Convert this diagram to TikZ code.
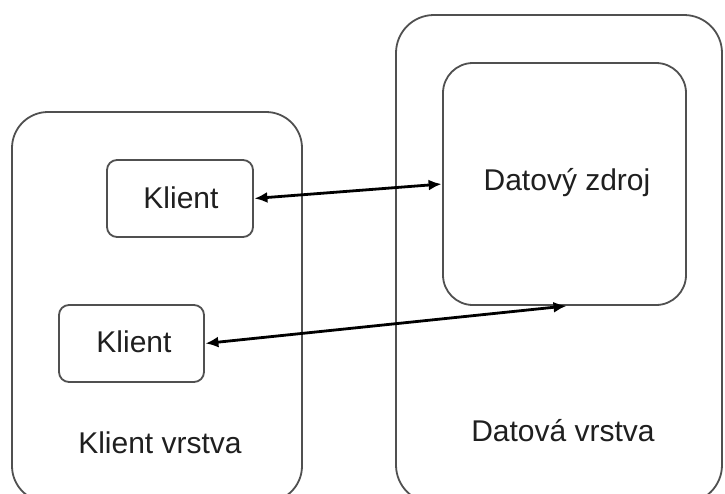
\documentclass[tikz,border=0pt]{standalone}
\usepackage{fontspec}
\setmainfont{Liberation Sans}
\usetikzlibrary{arrows.meta}
\definecolor{edgegray}{HTML}{505050}
\tikzset{
  box/.style={draw=edgegray, line width=1.8pt, inner sep=0pt},
  lbl/.style={font=\fontsize{30}{36}\selectfont, text=black!88, inner sep=0pt},
  link/.style={line width=2.8pt, black, {Latex[length=13pt,width=11pt]}-{Latex[length=13pt,width=11pt]}, shorten <=0.5pt, shorten >=0.5pt}
}
\begin{document}
\begin{tikzpicture}[x=1pt, y=-1pt]
\useasboundingbox (0,0) rectangle (725,493);
\clip (0,0) rectangle (725,493);
\fill[white] (0,0) rectangle (725,493);
% layers
\node[box, rounded corners=36pt, minimum width=290pt, minimum height=390pt] (clientlayer) at (157,307) {};
\node[box, rounded corners=38pt, minimum width=326pt, minimum height=488pt] (datalayer) at (559,259) {};
% inner boxes
\node[box, rounded corners=30pt, minimum width=243pt, minimum height=242pt] (zdroj) at (564.5,184) {};
\node[box, rounded corners=10pt, minimum width=146pt, minimum height=77pt] (k1) at (180,198.5) {};
\node[box, rounded corners=10pt, minimum width=145pt, minimum height=77pt] (k2) at (131.5,343.5) {};
% texts
\node[lbl] (k1t) at (181,198) {Klient};
\node[lbl] (k2t) at (134,342) {Klient};
\node[lbl] (zt) at (567,183) {Datový zdroj};
\node[lbl] (clt) at (160,443) {Klient vrstva};
\node[lbl] (dlt) at (563,431) {Datová vrstva};
% links
\draw[link] (k1.east) -- (zdroj.west);
\draw[link] (k2.east) -- ([xshift=2.5pt]zdroj.south);
\end{tikzpicture}
\end{document}
